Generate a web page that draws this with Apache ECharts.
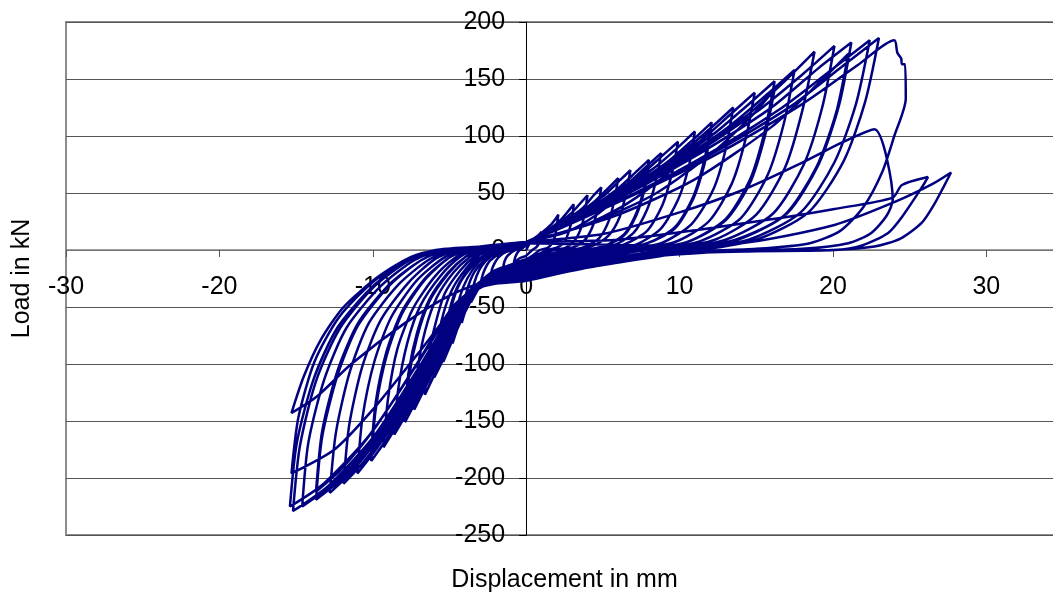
<!DOCTYPE html>
<html>
<head>
<meta charset="utf-8">
<script src="https://cdn.jsdelivr.net/npm/echarts@6/dist/echarts.min.js"></script>
<style>
html,body{margin:0;padding:0;background:#fff;}
#chart{width:1053px;height:597px;}
</style>
</head>
<body>
<div id="chart"></div>
<script>
// Axis settings (tick labels)
const xTicks = [-30, -20, -10, 0, 10, 20, 30];
const yTicks = [-250, -200, -150, -100, -50, 0, 50, 100, 150, 200];

// Load-displacement path, one array per load cycle: [displacement mm, load kN]
const cycle01 = [[0,0],[0.3,7],[0.6,10],[1.0,16],[0.9,8],[0.7,3],[0.4,0],[0,-5],[-0.4,-7],[-0.8,-11],[-0.7,-6],[-0.5,-1],[-0.2,2]];
const cycle02 = [[0,4],[0.5,10],[1.0,15],[1.6,22],[1.9,27],[2.1,31],[2.0,22],[1.9,13],[1.7,6],[1.4,2],[0.9,0],[0.4,-5],[0,-8],[-0.5,-10],[-1.0,-13],[-1.5,-16],[-1.45,-12],[-1.35,-8],[-1.2,-5],[-0.95,-2],[-0.7,0],[-0.3,3]];
const cycle03 = [[0,5],[0.8,12],[1.6,19],[2.3,27],[2.8,35],[3.1,40],[3.0,28],[2.8,17],[2.5,7],[2.0,2],[1.4,0],[0.6,-5],[0,-9],[-0.35,-10],[-0.7,-12],[-1.15,-14],[-1.6,-18],[-2.0,-21],[-2.3,-23],[-2.23,-17],[-2.07,-12],[-1.84,-7],[-1.5,-3],[-1.15,-1],[-0.87,0],[-0.46,3]];
const cycle04 = [[0,5],[1.0,14],[2.0,22],[3.0,33],[3.6,42],[4.0,48],[3.84,34],[3.6,20],[3.2,9],[2.6,2],[1.8,0],[0.8,-6],[0,-10],[-0.45,-11],[-0.9,-13],[-1.5,-17],[-2.1,-22],[-2.6,-27],[-3.0,-33],[-2.9,-25],[-2.7,-17],[-2.4,-10],[-1.95,-5],[-1.5,-1],[-1.14,0],[-0.6,3]];
const cycle05 = [[0,6],[1.2,15],[2.45,25],[3.7,37],[4.4,48],[4.9,55],[4.7,39],[4.4,23],[3.9,10],[3.2,3],[2.2,-1],[1.0,-6],[0,-11],[-1.0,-13],[-2.0,-19],[-2.7,-26],[-3.2,-36],[-3.6,-46],[-3.5,-35],[-3.24,-23],[-2.9,-14],[-2.34,-6],[-1.8,-2],[-1.37,0],[-0.72,3]];
const cycle06 = [[0,6],[1.5,17],[3.0,28],[4.5,43],[5.4,55],[6.0,63],[5.76,44],[5.4,26],[4.8,11],[3.9,3],[2.7,-1],[1.2,-7],[0,-12],[-1.0,-13],[-2.0,-20],[-2.9,-29],[-3.6,-43],[-4.0,-55],[-4.2,-64],[-4.07,-48],[-3.78,-32],[-3.36,-19],[-2.73,-9],[-2.1,-3],[-1.6,0],[-0.84,3]];
const cycle07 = [[0,6],[1.7,18],[3.4,31],[5.1,48],[6.1,61],[6.8,70],[6.5,49],[6.1,29],[5.4,13],[4.4,4],[3.1,-1],[1.4,-7],[0,-12],[-1.0,-13],[-2.0,-20],[-3.0,-31],[-3.8,-49],[-4.4,-66],[-4.8,-82],[-4.66,-62],[-4.32,-41],[-3.84,-25],[-3.12,-11],[-2.4,-3],[-1.82,0],[-0.96,3]];
const cycle08 = [[0,7],[2.0,20],[4.0,35],[6.0,54],[7.2,69],[8.0,79],[7.7,55],[7.2,33],[6.4,14],[5.2,4],[3.6,-1],[1.6,-8],[0,-13],[-1.0,-14],[-2.0,-20],[-3.0,-31],[-4.0,-55],[-4.8,-79],[-5.4,-98],[-5.24,-74],[-4.86,-49],[-4.32,-29],[-3.5,-14],[-2.7,-4],[-2.05,0],[-1.08,3]];
const cycle08b = [[0,7],[2.5,15],[4.5,30],[6.3,50],[7.4,64],[8.0,74],[7.7,52],[7.2,31],[6.4,13],[5.2,4],[3.6,-1],[1.6,-8],[0,-13],[-1.2,-14],[-2.3,-20],[-3.3,-33],[-4.3,-58],[-5.0,-80],[-5.4,-92],[-5.24,-70],[-4.86,-46],[-4.32,-28],[-3.5,-13],[-2.7,-4],[-2.05,0],[-1.08,3]];
const cycle09 = [[0,7],[2.2,21],[4.4,38],[6.6,58],[7.9,74],[8.8,85],[8.45,60],[7.9,36],[7.0,15],[5.7,4],[4.0,-1],[1.8,-8],[0,-14],[-1.0,-15],[-2.2,-22],[-3.2,-34],[-4.3,-62],[-5.3,-93],[-6.0,-112],[-5.82,-84],[-5.4,-56],[-4.8,-34],[-3.9,-16],[-3.0,-4],[-2.3,0],[-1.2,3]];
const cycle10 = [[0,7],[2.5,23],[4.95,42],[7.4,65],[8.9,83],[9.9,95],[9.5,67],[8.9,40],[7.9,17],[6.4,5],[4.5,-1],[2.0,-9],[0,-15],[-1.0,-16],[-2.2,-23],[-3.3,-35],[-4.5,-65],[-5.8,-104],[-6.6,-127],[-6.4,-95],[-5.9,-64],[-5.3,-38],[-4.3,-18],[-3.3,-5],[-2.5,0],[-1.3,3]];
const cycle11 = [[0,7],[2.75,25],[5.5,46],[8.25,71],[9.9,90],[11.0,104],[10.6,73],[9.9,44],[8.8,19],[7.2,5],[5.0,-1],[2.2,-9],[0,-16],[-1.1,-17],[-2.3,-24],[-3.5,-38],[-4.8,-72],[-6.3,-113],[-7.3,-140],[-7.08,-105],[-6.57,-70],[-5.84,-42],[-4.75,-20],[-3.65,-6],[-2.8,0],[-1.46,3]];
const cycle12 = [[0,7],[3.0,26],[6.05,49],[9.1,76],[10.9,97],[12.1,112],[11.6,78],[10.9,47],[9.7,20],[7.9,6],[5.4,-1],[2.4,-10],[0,-17],[-1.2,-18],[-2.4,-25],[-3.6,-39],[-5.0,-75],[-6.7,-120],[-7.9,-151],[-7.66,-113],[-7.1,-76],[-6.3,-45],[-5.1,-21],[-3.95,-6],[-3.0,0],[-1.6,3]];
const cycle12b = [[0,7],[3.5,20],[6.5,40],[9.3,68],[11.1,92],[12.1,106],[11.6,74],[10.9,45],[9.7,19],[7.9,6],[5.4,-1],[2.4,-10],[0,-17],[-1.4,-18],[-2.7,-25],[-4.0,-40],[-5.5,-76],[-7.0,-117],[-7.9,-143],[-7.66,-107],[-7.1,-72],[-6.3,-43],[-5.1,-20],[-3.95,-6],[-3.0,0],[-1.6,3]];
const cycle13 = [[0,7],[3.4,29],[6.75,55],[10.1,85],[12.2,109],[13.5,125],[13.0,88],[12.2,53],[10.8,23],[8.8,6],[6.1,-1],[2.7,-11],[0,-19],[-1.3,-20],[-2.5,-26],[-3.7,-40],[-5.2,-78],[-7.1,-127],[-8.6,-162],[-8.34,-122],[-7.74,-81],[-6.9,-49],[-5.6,-23],[-4.3,-6],[-3.3,0],[-1.7,3]];
const cycle14 = [[0,7],[3.7,32],[7.45,60],[11.2,94],[13.4,120],[14.9,138],[14.3,97],[13.4,58],[11.9,25],[9.7,7],[6.7,-1],[3.0,-11],[0,-21],[-1.4,-22],[-2.6,-28],[-3.8,-42],[-5.4,-82],[-7.4,-133],[-8.6,-158],[-9.3,-173],[-9.0,-130],[-8.4,-87],[-7.4,-52],[-6.0,-24],[-4.65,-7],[-3.5,0],[-1.9,3]];
const cycle15 = [[0,7],[4.05,34],[8.1,64],[12.15,101],[14.6,129],[16.2,148],[15.55,104],[14.6,62],[13.0,27],[10.5,7],[7.3,-1],[3.2,-12],[0,-22],[-1.5,-23],[-2.7,-29],[-4.0,-45],[-5.7,-88],[-7.8,-139],[-9.2,-168],[-10.1,-185],[-9.8,-139],[-9.1,-93],[-8.1,-56],[-6.6,-26],[-5.05,-7],[-3.8,0],[-2.0,3]];
const cycle15b = [[0,7],[4.5,25],[8.5,50],[12.2,86],[14.8,119],[16.2,141],[15.55,99],[14.6,59],[13.0,26],[10.5,7],[7.3,-1],[3.2,-12],[0,-22],[-1.7,-23],[-3.0,-30],[-4.4,-46],[-6.2,-88],[-8.2,-137],[-9.4,-163],[-10.1,-177],[-9.8,-133],[-9.1,-89],[-8.1,-54],[-6.6,-25],[-5.05,-7],[-3.8,0],[-2.0,3]];
const cycle16 = [[0,7],[4.4,36],[8.75,68],[13.1,107],[15.75,137],[17.5,158],[16.8,111],[15.75,66],[14.0,28],[11.4,8],[7.9,-2],[3.5,-12],[0,-23],[-1.6,-24],[-2.8,-30],[-4.1,-46],[-5.9,-91],[-8.2,-144],[-9.9,-177],[-11.0,-196],[-10.67,-147],[-9.9,-98],[-8.8,-59],[-7.15,-27],[-5.5,-8],[-4.2,0],[-2.2,3]];
const cycle17 = [[0,7],[4.7,38],[9.45,74],[14.2,116],[17.0,150],[18.8,174],[18.0,122],[16.9,73],[15.0,31],[12.3,9],[8.5,-2],[3.8,-13],[0,-25],[-1.7,-26],[-2.9,-31],[-4.2,-47],[-6.1,-93],[-8.6,-149],[-10.6,-186],[-11.9,-205],[-11.54,-154],[-10.7,-103],[-9.5,-62],[-7.7,-29],[-5.95,-8],[-4.5,0],[-2.4,3]];
const cycle18 = [[0,7],[5.0,39],[10.0,76],[15.0,121],[18.1,155],[20.1,179],[19.3,125],[18.1,75],[16.1,32],[13.0,9],[9.0,-2],[4.0,-14],[0,-25],[-1.8,-26],[-3.0,-32],[-4.3,-48],[-6.3,-95],[-9.0,-153],[-11.2,-192],[-12.8,-213],[-12.4,-160],[-11.5,-107],[-10.25,-64],[-8.3,-30],[-6.4,-9],[-4.9,0],[-2.6,3]];
const cycle19 = [[0,7],[5.3,40],[10.6,79],[15.9,124],[19.1,160],[21.2,182],[20.4,127],[19.1,76],[17.0,32],[13.8,9],[9.5,-2],[4.2,-14],[0,-26],[-1.9,-27],[-3.1,-33],[-4.4,-49],[-6.5,-97],[-9.3,-157],[-11.8,-198],[-13.7,-219],[-13.3,-164],[-12.3,-110],[-10.95,-66],[-8.9,-31],[-6.85,-9],[-5.2,0],[-2.7,3]];
const cycle19b = [[0,7],[5.8,30],[11.0,62],[16.0,108],[19.2,148],[21.0,172],[20.2,120],[18.9,72],[16.8,30],[13.65,9],[9.45,-2],[4.2,-14],[0,-26],[-2.1,-28],[-3.4,-34],[-4.8,-50],[-7.0,-97],[-9.8,-155],[-12.1,-193],[-13.7,-212],[-13.3,-159],[-12.3,-106],[-10.95,-64],[-8.9,-30],[-6.85,-9],[-5.2,0],[-2.7,3]];
const cycle20 = [[0,7],[5.6,40],[11.2,79],[16.7,125],[20.1,160],[22.4,184],[21.5,128],[20.1,77],[17.9,33],[14.5,9],[10.0,-2],[4.4,-14],[0,-26],[-2.0,-28],[-3.2,-34],[-4.5,-50],[-6.7,-99],[-9.6,-160],[-12.4,-203],[-14.6,-225],[-14.2,-169],[-13.15,-113],[-11.7,-68],[-9.5,-32],[-7.3,-9],[-5.5,0],[-2.9,3]];
const cycle21 = [[0,7],[5.75,41],[11.5,80],[17.25,126],[20.7,162],[23.0,186],[22.1,130],[20.7,78],[18.4,33],[15.0,9],[10.35,-2],[4.6,-14],[0,-26],[-2.1,-29],[-3.3,-35],[-4.6,-51],[-6.9,-101],[-9.9,-163],[-12.9,-207],[-15.2,-229],[-14.75,-172],[-13.7,-115],[-12.15,-69],[-9.9,-32],[-7.6,-9],[-5.8,0],[-3.0,3]];
const cycle22 = [[0,7],[6.0,42],[12.0,81],[18.0,128],[21.6,162],[24.0,184],[24.2,173],[24.45,168],[24.5,163],[24.7,163],[24.75,133],[24.0,100],[23.2,68],[22.0,38],[20.5,17],[18.5,6],[15.0,1],[10.0,-2],[5.0,-12],[0,-27],[-2.2,-30],[-3.4,-35],[-4.8,-52],[-7.1,-100],[-10.2,-162],[-13.2,-205],[-15.4,-225],[-14.95,-169],[-13.85,-113],[-12.3,-68],[-10.0,-32],[-7.7,-9],[-5.9,0],[-3.0,3]];
const cycle23 = [[0,7],[5.0,14],[10.0,33],[14.0,52],[17.9,76],[20.7,95],[22.7,106],[23.9,44],[23.5,30],[22.5,15],[21.0,6],[18.0,1],[12.0,-2],[5.0,-10],[0,-24],[-2.5,-30],[-4.5,-48],[-7.0,-90],[-10.0,-140],[-12.5,-175],[-15.3,-196],[-14.85,-147],[-13.8,-98],[-12.2,-59],[-9.9,-27],[-7.6,-8],[-5.8,0],[-3.0,3]];
const cycle24 = [[0,7],[6.0,9],[11.4,18],[17.0,29],[20.1,36],[23.9,46],[24.5,57],[26.2,64],[25.8,55],[24.5,29],[23.6,15],[21.9,4],[20.1,0],[15.0,-1],[10.0,-3],[5.0,-10],[0,-22],[-2.5,-27],[-5.0,-40],[-8.0,-65],[-11.4,-100],[-13.6,-128],[-15.3,-143],[-14.5,-111],[-13.4,-79],[-11.9,-50],[-9.7,-24],[-7.5,-6],[-5.7,0],[-3.0,3]];
const cycle25 = [[0,6],[8.0,4],[14.0,6],[20.1,22],[24.0,42],[26.5,58],[27.7,68],[27.2,55],[26.6,40],[25.8,24],[24.4,10],[22.7,3],[20.0,0],[15.0,-1]];

const cycles = [cycle01, cycle02, cycle03, cycle04, cycle05, cycle06, cycle07, cycle08, cycle08b, cycle09, cycle10,
  cycle11, cycle12, cycle12b, cycle13, cycle14, cycle15, cycle15b, cycle16, cycle17, cycle18, cycle19, cycle19b, cycle20,
  cycle21, cycle22, cycle23, cycle24, cycle25];
const path = [].concat(...cycles);

const FONT = '"Liberation Sans", Arial, sans-serif';
const GRID = {left: 66, top: 22, bottom: 62, right: -10};
const W = 1053, H = 597;
const xMin = xTicks[0], xMax = 35;
const yMin = yTicks[0], yMax = yTicks[yTicks.length - 1];
// move the axes (with labels) onto the zero lines
const plotW = W - GRID.left - GRID.right, plotH = H - GRID.top - GRID.bottom;
const xZeroPx = GRID.left + (0 - xMin) / (xMax - xMin) * plotW;
const yZeroPx = GRID.top + (yMax - 0) / (yMax - yMin) * plotH;
const xAxisOffset = -((H - GRID.bottom) - yZeroPx);
const yAxisOffset = -(xZeroPx - GRID.left);

const chart = echarts.init(document.getElementById('chart'), null, {renderer: 'canvas'});
chart.setOption({
  animation: false,
  backgroundColor: '#ffffff',
  grid: {
    left: GRID.left, top: GRID.top, bottom: GRID.bottom, right: GRID.right,
    containLabel: false, outerBoundsMode: 'none',
    show: true, borderColor: '#8c8c8c', borderWidth: 2, backgroundColor: 'transparent'
  },
  xAxis: {
    type: 'value', min: xMin, max: xMax, interval: 10,
    offset: xAxisOffset,
    name: 'Displacement in mm', nameLocation: 'middle', nameGap: 318,
    nameTextStyle: {fontFamily: FONT, fontSize: 25, color: '#000'},
    axisLine: {show: true, onZero: false, lineStyle: {color: '#808080', width: 1.5}},
    axisTick: {show: true, length: 7, lineStyle: {color: '#555'}},
    axisLabel: {
      margin: 25, fontFamily: FONT, fontSize: 25, color: '#000',
      formatter: v => xTicks.indexOf(v) >= 0 ? String(v) : ''
    },
    splitLine: {show: false}
  },
  yAxis: {
    type: 'value', min: yMin, max: yMax, interval: 50,
    offset: yAxisOffset,
    name: 'Load in kN', nameLocation: 'middle', nameGap: 492, nameRotate: 90,
    nameTextStyle: {fontFamily: FONT, fontSize: 25, color: '#000'},
    axisLine: {show: true, onZero: false, lineStyle: {color: '#000', width: 1}},
    axisTick: {show: true, length: 7, lineStyle: {color: '#000'}},
    axisLabel: {margin: 21, fontFamily: FONT, fontSize: 25, color: '#000'},
    splitLine: {show: true, lineStyle: {color: '#555', width: 1.2}}
  },
  series: [{
    type: 'line',
    data: path,
    showSymbol: false,
    smooth: 0.25,
    lineStyle: {color: '#000080', width: 2.5},
    z: 3
  }]
});
</script>
</body>
</html>
